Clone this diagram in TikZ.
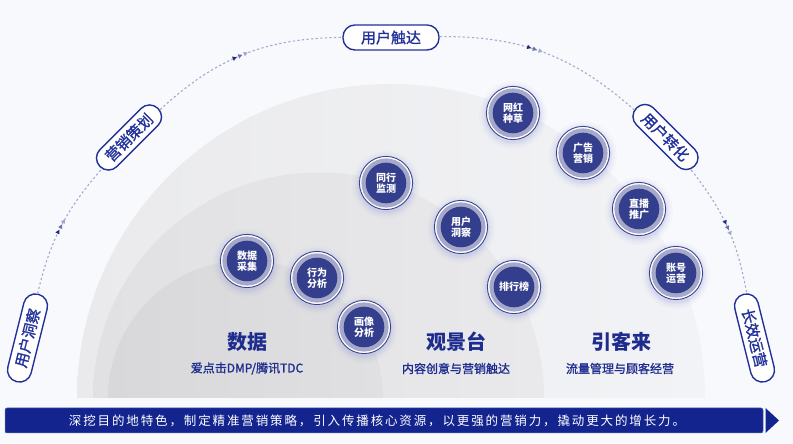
\documentclass[tikz,border=0pt]{standalone}
\usepackage{fontspec}
\setmainfont{Noto Sans CJK SC}
\usetikzlibrary{decorations.markings}
\definecolor{bgc}{HTML}{F8F9FC}
\definecolor{c1l}{HTML}{EAEAEC}
\definecolor{c1r}{HTML}{F2F3F6}
\definecolor{c2l}{HTML}{E1E1E3}
\definecolor{c2r}{HTML}{E9E9EB}
\definecolor{c3l}{HTML}{D8D8DA}
\definecolor{c3r}{HTML}{E0E0E2}
\definecolor{navyB}{HTML}{333E8C}
\definecolor{lavr}{HTML}{A5A8C8}
\definecolor{ringo}{HTML}{3A4590}
\definecolor{glowc}{HTML}{7C86D8}
\definecolor{navyT}{HTML}{1E2C8E}
\definecolor{navyP}{HTML}{22319A}
\definecolor{lav}{HTML}{A3A8CF}
\definecolor{mk1}{HTML}{1E2A80}
\definecolor{mk2}{HTML}{6A70A8}
\definecolor{mk3}{HTML}{A2A6CC}
\definecolor{barc}{HTML}{13248E}
\newcommand\mkbubble[3]{%
  \foreach \rr/\oo in {34/0.03,32/0.04,30.5/0.05,29/0.06,28/0.07}{\fill[glowc,opacity=\oo] ([yshift=-2pt]#2) circle (\rr);}
  \fill[white] (#2) circle (26.4);
  \draw[ringo, line width=0.9pt] (#2) circle (26.6);
  \fill[lavr] (#2) circle (24.6);
  \node[bub] (#1) at (#2) {#3};
}
\begin{document}
\begin{tikzpicture}[x=1pt,y=1pt,
  bub/.style={circle, fill=navyB, minimum size=40.6pt, inner sep=0pt, text=white,
    font=\bfseries\fontsize{10}{10.8}\selectfont, align=center},
  pill/.style={draw=navyP, line width=1.4pt, fill=white, rounded corners=11.9pt,
    minimum height=24pt, inner sep=0pt, text=navyP,
    font=\fontsize{15}{15}\selectfont\addfontfeature{FakeBold=1.3}},
  orbit/.style={draw=lav, line width=1.1pt, dash pattern=on 2.2pt off 2.4pt},
  arrowmark/.style={postaction={decorate, decoration={markings, mark=at position #1 with {
    \fill[mk1] (-7.5pt,-2.3pt) -- (-3.5pt,0pt) -- (-7.5pt,2.3pt) -- cycle;
    \fill[mk2] (-1.5pt,-2.3pt) -- (2.5pt,0pt) -- (-1.5pt,2.3pt) -- cycle;
    \fill[mk3] (4.5pt,-2.3pt) -- (8.5pt,0pt) -- (4.5pt,2.3pt) -- cycle;}}}},
  ttl/.style={text=navyT, font=\bfseries\fontsize{20}{20}\selectfont, inner sep=0pt},
  sub/.style={text=navyT, font=\fontsize{12}{12}\selectfont\addfontfeature{FakeBold=1.3}, inner sep=0pt},
  bar/.style={fill=barc, draw=barc!70!white, line width=0.5pt, rounded corners=2pt, text=white,
    minimum width=758pt, minimum height=25pt, inner sep=0pt,
    font=\fontsize{12.5}{12.5}\selectfont\addfontfeature{LetterSpace=15}}
]
\useasboundingbox (0,0) rectangle (793,444);
\fill[bgc] (0,0) rectangle (793,444);
% nested half discs
\shade[left color=c1l, right color=c1r] (77,46) arc[start angle=180, end angle=0, radius=314] -- cycle;
\shade[left color=c2l, right color=c2r] (93,46) arc[start angle=180, end angle=0, radius=225.5] -- cycle;
\shade[left color=c3l, right color=c3r] (108,46) arc[start angle=180, end angle=0, radius=137.5] -- cycle;
% orbit labels
\node[pill, minimum width=90pt, rotate=76] (p1) at (27.5,106) {用户洞察};
\node[pill, minimum width=82pt, rotate=45] (p2) at (129,306.5) {营销策划};
\node[pill, minimum width=96pt, minimum height=25pt] (p3) at (391,406.5) {用户触达};
\node[pill, minimum width=82pt, rotate=-45] (p4) at (665.5,307) {用户转化};
\node[pill, minimum width=90pt, rotate=-76] (p5) at (754.5,106) {长效运营};
\draw[orbit, arrowmark=0.5] (p1) to[bend left=14] (p2);
\draw[orbit, arrowmark=0.48] (p2) to[bend left=21] (p3);
\draw[orbit, arrowmark=0.45] (p3) to[bend left=21] (p4);
\draw[orbit, arrowmark=0.5] (p4) to[bend left=14] (p5);
% bubbles
\mkbubble{b1}{513,331}{网红\\种草}
\mkbubble{b2}{583,291}{广告\\营销}
\mkbubble{b3}{639,235}{直播\\推广}
\mkbubble{b4}{676,171}{账号\\运营}
\mkbubble{b5}{386,261}{同行\\监测}
\mkbubble{b6}{461,217}{用户\\洞察}
\mkbubble{b7}{514,157}{排行榜}
\mkbubble{b8}{247,183}{数据\\采集}
\mkbubble{b9}{317,166}{行为\\分析}
\mkbubble{b10}{364,117}{画像\\分析}
% titles
\node[ttl] (t1) at (247,102) {数据};
\node[ttl] (t2) at (456,102) {观景台};
\node[ttl] (t3) at (621,102) {引客来};
\node[sub] (s1) at (247,75.5) {爱点击DMP/腾讯TDC};
\node[sub] (s2) at (456,75.5) {内容创意与营销触达};
\node[sub] (s3) at (620,75.5) {流量管理与顾客经营};
% banner
\node[bar] (bar) at (384,23.5) {深挖目的地特色，制定精准营销策略，引入传播核心资源，以更强的营销力，撬动更大的增长力。\kern14pt};
\fill[barc] (765.5,36) -- (779,23.5) -- (765.5,11) -- cycle;
\end{tikzpicture}
\end{document}
